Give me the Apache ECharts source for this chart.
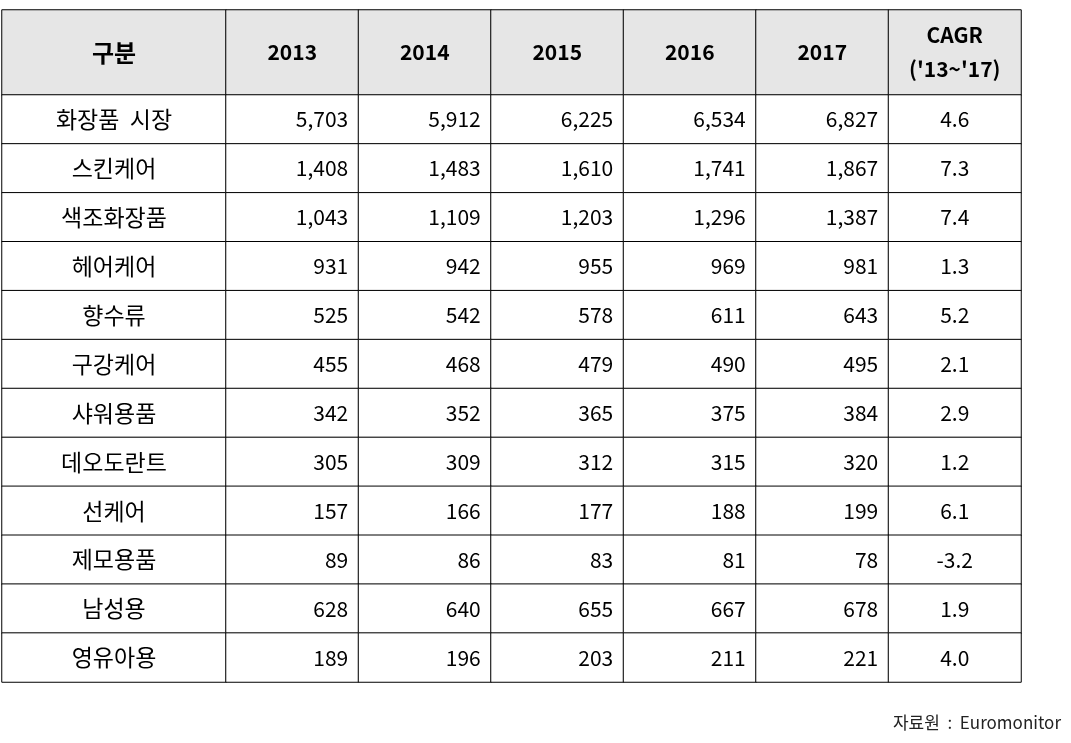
<!DOCTYPE html>
<html>
<head>
<meta charset="utf-8">
<script src="https://cdn.jsdelivr.net/npm/echarts@6/dist/echarts.min.js"></script>
<style>
  html, body { margin: 0; padding: 0; background: #fff; }
  #main { width: 1071px; height: 743px; }
</style>
</head>
<body>
<div id="main"></div>
<script>
// 표 데이터
const categories = ['화장품  시장', '스킨케어', '색조화장품', '헤어케어', '향수류', '구강케어',
  '샤워용품', '데오도란트', '선케어', '제모용품', '남성용', '영유아용'];
const headerFirst = ['구분'];
const headerCols = ['2013', '2014', '2015', '2016', '2017', "CAGR\n('13~'17)"];
const v2013 = [5703, 1408, 1043, 931, 525, 455, 342, 305, 157, 89, 628, 189];
const v2014 = [5912, 1483, 1109, 942, 542, 468, 352, 309, 166, 86, 640, 196];
const v2015 = [6225, 1610, 1203, 955, 578, 479, 365, 312, 177, 83, 655, 203];
const v2016 = [6534, 1741, 1296, 969, 611, 490, 375, 315, 188, 81, 667, 211];
const v2017 = [6827, 1867, 1387, 981, 643, 495, 384, 320, 199, 78, 678, 221];
const cagr = [4.6, 7.3, 7.4, 1.3, 5.2, 2.1, 2.9, 1.2, 6.1, -3.2, 1.9, 4.0];
const source = '자료원  :  Euromonitor';

const FONT = "'Noto Sans CJK KR', 'Noto Sans', sans-serif";
const cellStyle = { borderColor: '#000', borderWidth: 1 };

function catAxis(data, gridIndex, inverse) {
  return {
    type: 'category', data: data, gridIndex: gridIndex, inverse: !!inverse,
    axisLine: { show: false }, axisTick: { show: false },
    axisLabel: { show: false }, splitLine: { show: false }
  };
}

const yearCols = [v2013, v2014, v2015, v2016, v2017];

// 본문 셀 (연도 + CAGR)
const bodyData = [];
categories.forEach((c, r) => {
  yearCols.forEach((arr, ci) => {
    bodyData.push({
      value: [ci, r, arr[r]],
      label: { position: 'insideRight', distance: 11,
        formatter: () => arr[r].toLocaleString('en-US') }
    });
  });
  bodyData.push({
    value: [5, r, cagr[r]],
    label: { position: 'inside', formatter: () => cagr[r].toFixed(1) }
  });
});

const chart = echarts.init(document.getElementById('main'));
chart.setOption({
  animation: false,
  title: {
    text: source, right: 5, top: 709,
    textStyle: { fontFamily: FONT, fontSize: 17, fontWeight: 'normal', color: '#222' }
  },
  grid: [
    { left: 2, top: 10, width: 224, height: 85 },
    { left: 226, top: 10, width: 795, height: 85 },
    { left: 2, top: 95, width: 224, height: 587 },
    { left: 226, top: 95, width: 795, height: 587 }
  ],
  xAxis: [
    catAxis(headerFirst, 0), catAxis(headerCols, 1),
    catAxis(headerFirst, 2), catAxis(headerCols, 3)
  ],
  yAxis: [
    catAxis(['h'], 0), catAxis(['h'], 1),
    catAxis(categories, 2, true), catAxis(categories, 3, true)
  ],
  visualMap: [
    { show: false, seriesIndex: [0, 1], min: 0, max: 1, inRange: { color: ['#e6e6e6', '#e6e6e6'] } },
    { show: false, seriesIndex: [2, 3], min: -10, max: 10000, inRange: { color: ['#ffffff', '#ffffff'] } }
  ],
  series: [
    {
      type: 'heatmap', xAxisIndex: 0, yAxisIndex: 0,
      data: [[0, 0, 0]], itemStyle: cellStyle,
      label: { show: true, formatter: () => headerFirst[0],
        fontFamily: FONT, fontSize: 24, fontWeight: 'bold', color: '#000' },
      emphasis: { disabled: true }
    },
    {
      type: 'heatmap', xAxisIndex: 1, yAxisIndex: 1,
      data: headerCols.map((h, i) => [i, 0, 0]), itemStyle: cellStyle,
      label: { show: true, formatter: p => headerCols[p.value[0]],
        fontFamily: FONT, fontSize: 21, fontWeight: 'bold', color: '#000', lineHeight: 34 },
      emphasis: { disabled: true }
    },
    {
      type: 'heatmap', xAxisIndex: 2, yAxisIndex: 2,
      data: categories.map((c, i) => [0, i, 0]), itemStyle: cellStyle,
      label: { show: true, formatter: p => categories[p.value[1]],
        fontFamily: FONT, fontSize: 23, color: '#000' },
      emphasis: { disabled: true }
    },
    {
      type: 'heatmap', xAxisIndex: 3, yAxisIndex: 3,
      data: bodyData, itemStyle: cellStyle,
      label: { show: true, fontFamily: FONT, fontSize: 21, color: '#000' },
      emphasis: { disabled: true }
    }
  ]
});
</script>
</body>
</html>
